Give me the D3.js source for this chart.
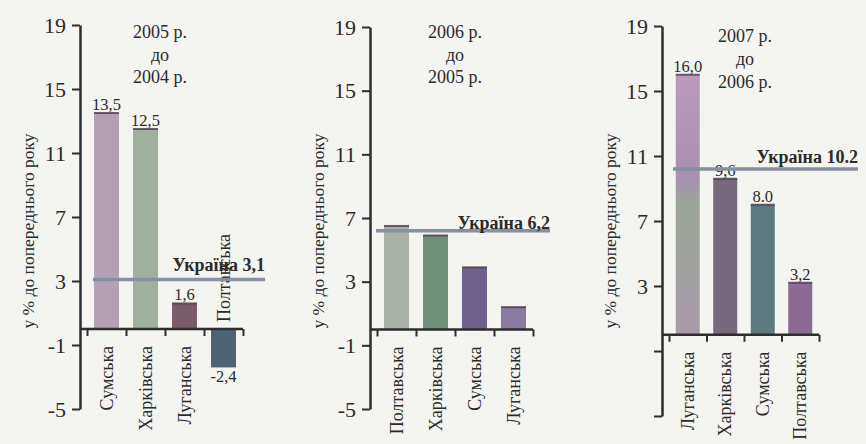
<!DOCTYPE html>
<html>
<head>
<meta charset="utf-8">
<script src="https://cdn.jsdelivr.net/npm/d3@7"></script>
<style>
  html, body { margin: 0; padding: 0; background: #f4f4f1; }
  svg { display: block; }
  svg text { font-family: "Liberation Serif", "DejaVu Serif", "Times New Roman", serif; fill: #2b2b2b; }
</style>
</head>
<body>
<svg id="chart" width="866" height="444"></svg>
<script>
// ---- data ----
const yTicks = [19, 15, 11, 7, 3, -1, -5];
const yTitle = "у % до попереднього року";

const cats2005 = ["Сумська", "Харківська", "Луганська", "Полтавська"];
const vals2005 = [13.5, 12.5, 1.6, -2.4];
const lbl2005  = ["13,5", "12,5", "1,6", "-2,4"];
const title2005 = ["2005 р.", "до", "2004 р."];

const cats2006 = ["Полтавська", "Харківська", "Сумська", "Луганська"];
const vals2006 = [6.5, 5.9, 3.9, 1.4];
const lbl2006  = ["", "", "", ""];
const title2006 = ["2006 р.", "до", "2005 р."];

const cats2007 = ["Луганська", "Харківська", "Сумська", "Полтавська"];
const vals2007 = [16.0, 9.6, 8.0, 3.2];
const lbl2007  = ["16,0", "9,6", "8.0", "3,2"];
const title2007 = ["2007 р.", "до", "2006 р."];

const ukraineVals = [3.1, 6.2, 10.2];
const ukraineLbls = ["Україна 3,1", "Україна 6,2", "Україна 10.2"];

// ---- styling / layout ----
const colors2005 = ["#b3a1b3", "#9fb09f", "#7b5a6a", "#4f6272"];
const colors2006 = ["#a9b1a7", "#6f8f7b", "#6e5f8c", "#8a79a0"];
const colors2007 = ["url(#lugGrad)", "#786a7c", "#5d7a7e", "#8b6b93"];

const panels = [
  { cats: cats2005, vals: vals2005, lbls: lbl2005, title: title2005, colors: colors2005,
    x0: 80, yTop: 25, yBot: 409, band: 39, showNegLabels: true,
    titleX: 160, titleY: [38, 61, 83], uk: 0, ukX: [93, 265], ukLblY: 271 },
  { cats: cats2006, vals: vals2006, lbls: lbl2006, title: title2006, colors: colors2006,
    x0: 370, yTop: 27, yBot: 409, band: 39, showNegLabels: true,
    titleX: 455, titleY: [38, 61, 83], uk: 1, ukX: [376, 550], ukLblY: 229 },
  { cats: cats2007, vals: vals2007, lbls: lbl2007, title: title2007, colors: colors2007,
    x0: 662, yTop: 26, yBot: 416, band: 37.5, showNegLabels: false,
    titleX: 745, titleY: [42, 65, 88], uk: 2, ukX: [673, 858], ukLblY: 163 }
];

const svg = d3.select("#chart");
const defs = svg.append("defs");
const g1 = defs.append("linearGradient").attr("id", "lugGrad")
  .attr("x1", 0).attr("x2", 0).attr("y1", 0).attr("y2", 1);
g1.append("stop").attr("offset", "0%").attr("stop-color", "#b99ab9");
g1.append("stop").attr("offset", "40%").attr("stop-color", "#a890b0");
g1.append("stop").attr("offset", "50%").attr("stop-color", "#9aa696");
g1.append("stop").attr("offset", "100%").attr("stop-color", "#a89aaa");

const axisColor = "#2e2e2e";
const serif = "'Liberation Serif', 'DejaVu Serif', serif";

panels.forEach(p => {
  const g = svg.append("g").attr("font-family", serif);
  const y = d3.scaleLinear().domain([-5, 19]).range([p.yBot, p.yTop]);
  const bandStart = p.x0 + 7;
  const bandEnd = bandStart + p.band * p.cats.length;
  const x = d3.scaleBand().domain(p.cats).range([bandStart, bandEnd]).paddingInner(0.36).paddingOuter(0.18);
  const xEdge = d3.scaleLinear().domain([0, p.cats.length]).range([bandStart, bandEnd]);
  const y0 = y(0);

  // y axis
  const yAxis = d3.axisLeft(y).tickValues(yTicks).tickSize(8).tickSizeOuter(0).tickPadding(6)
    .tickFormat(d => (p.showNegLabels || d >= 0) ? String(d) : "");
  const ya = g.append("g").attr("transform", `translate(${p.x0},0)`).call(yAxis);
  ya.attr("font-family", serif);
  ya.select(".domain").attr("stroke", axisColor).attr("stroke-width", 2.5);
  ya.selectAll(".tick line").attr("stroke", axisColor).attr("stroke-width", 2);
  ya.selectAll(".tick text").attr("font-size", 22).attr("fill", "#333");

  // y title
  g.append("text")
    .attr("transform", `translate(${p.x0 - 52},${231}) rotate(-90)`)
    .attr("text-anchor", "middle").attr("dominant-baseline", "central")
    .attr("font-size", 17.5).attr("fill", "#333").text(yTitle);

  // bars
  g.selectAll("rect.bar").data(p.cats).join("rect")
    .attr("class", "bar")
    .attr("x", d => x(d))
    .attr("width", x.bandwidth())
    .attr("y", (d, i) => Math.min(y(p.vals[i]), y0))
    .attr("height", (d, i) => Math.abs(y(p.vals[i]) - y0))
    .attr("fill", (d, i) => p.colors[i]);
  g.selectAll("line.cap").data(p.cats).join("line")
    .attr("class", "cap")
    .attr("x1", d => x(d)).attr("x2", d => x(d) + x.bandwidth())
    .attr("y1", (d, i) => y(p.vals[i])).attr("y2", (d, i) => y(p.vals[i]))
    .attr("stroke", "#4a3a4a").attr("stroke-width", 2)
    .attr("opacity", (d, i) => p.vals[i] > 0 ? 0.8 : 0);

  // zero line / x axis
  g.append("line").attr("x1", p.x0).attr("x2", bandEnd).attr("y1", y0).attr("y2", y0)
    .attr("stroke", axisColor).attr("stroke-width", 2.5);
  const xAxis = d3.axisBottom(xEdge).tickValues(d3.range(p.cats.length + 1)).tickSize(7).tickSizeOuter(0).tickFormat("");
  const xa = g.append("g").attr("transform", `translate(0,${y0})`).call(xAxis);
  xa.select(".domain").remove();
  xa.selectAll(".tick line").attr("stroke", axisColor).attr("stroke-width", 2);

  // category labels
  g.selectAll("text.cat").data(p.cats).join("text")
    .attr("class", "cat")
    .attr("transform", (d, i) => {
      const cx = x(d) + x.bandwidth() / 2;
      const ty = p.vals[i] >= 0 ? y0 + 17 : y0 - 7;
      return `translate(${cx},${ty}) rotate(-90)`;
    })
    .attr("text-anchor", (d, i) => p.vals[i] >= 0 ? "end" : "start")
    .attr("dominant-baseline", "central")
    .attr("font-size", 18).attr("fill", "#333")
    .text(d => d);

  // value labels
  g.selectAll("text.val").data(p.cats).join("text")
    .attr("class", "val")
    .attr("x", d => x(d) + x.bandwidth() / 2)
    .attr("y", (d, i) => p.vals[i] >= 0 ? y(p.vals[i]) - 3 : y(p.vals[i]) + 15)
    .attr("text-anchor", "middle")
    .attr("font-size", 16.5).attr("fill", "#333")
    .text((d, i) => p.lbls[i]);

  // Ukraine line
  const yu = y(ukraineVals[p.uk]);
  g.append("line").attr("x1", p.ukX[0]).attr("x2", p.ukX[1]).attr("y1", yu).attr("y2", yu)
    .attr("stroke", "#8790a0").attr("stroke-width", 3.5);
  g.append("text").attr("x", p.ukX[1]).attr("y", p.ukLblY)
    .attr("text-anchor", "end").attr("font-size", 18).attr("font-weight", "bold").attr("fill", "#333")
    .text(ukraineLbls[p.uk]);

  // panel title
  g.selectAll("text.title").data(p.title).join("text")
    .attr("class", "title")
    .attr("x", p.titleX).attr("y", (d, i) => p.titleY[i])
    .attr("text-anchor", "middle").attr("font-size", 18).attr("fill", "#3a3a3a")
    .text(d => d);
});
</script>
</body>
</html>
